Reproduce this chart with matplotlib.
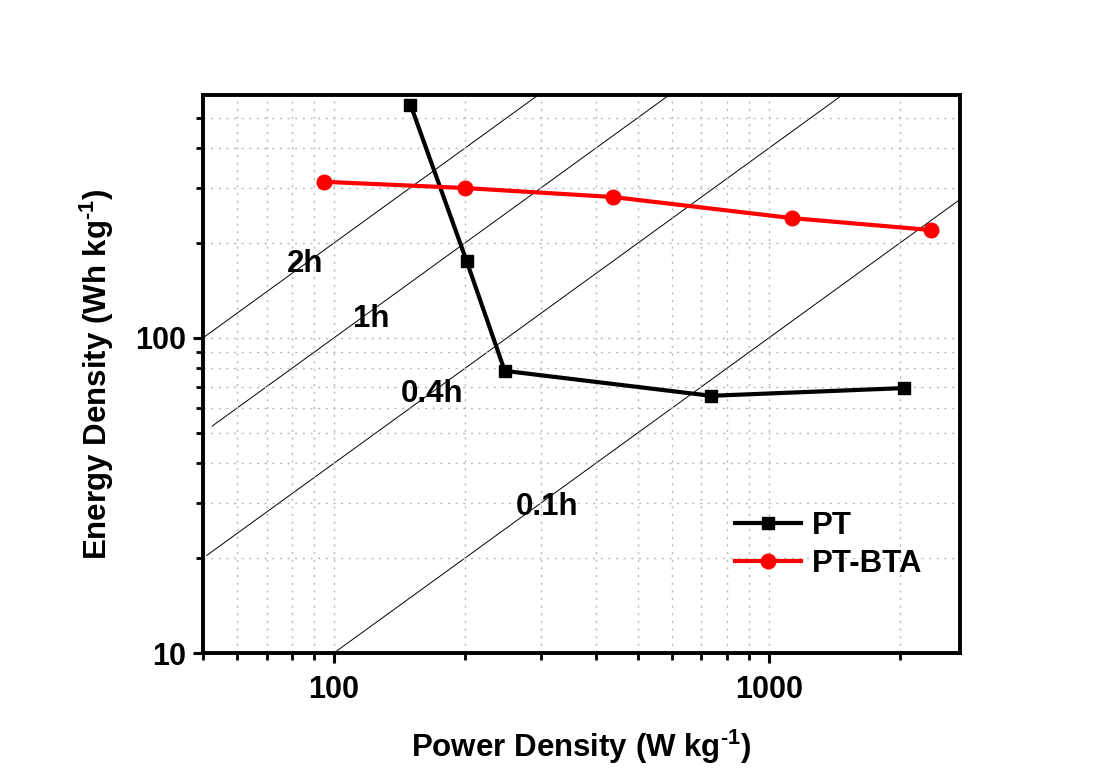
import numpy as np
import matplotlib
matplotlib.use("Agg")
import matplotlib.pyplot as plt
from matplotlib.ticker import LogLocator, NullFormatter

plt.rcParams['font.family'] = ['Liberation Sans', 'DejaVu Sans']
plt.rcParams['font.weight'] = 'bold'
plt.rcParams['mathtext.fontset'] = 'custom'
plt.rcParams['mathtext.rm'] = 'Liberation Sans:bold'
plt.rcParams['mathtext.bf'] = 'Liberation Sans:bold'
plt.rcParams['mathtext.default'] = 'bf'

# data
pt_power = [150, 202, 247, 736, 2040]
pt_energy = [550, 175, 78.6, 65.5, 69.3]
bta_power = [94.8, 200, 438, 1130, 2355]
bta_energy = [313, 299, 280, 240, 220]

# constant discharge-time guide lines (E = P * t)
times = [2, 1, 0.4, 0.1]
time_labels = ['2h', '1h', '0.4h', '0.1h']
line_start = [50, 52.5, 51, 100]
label_pos = [(85.8, 172), (121.6, 115), (167.8, 66.5), (309.6, 29.0)]

fig = plt.figure(figsize=(11, 7.75), dpi=100)
ax = fig.add_axes([0.1845, 0.1574, 0.6882, 0.72])

for t, p0 in zip(times, line_start):
    p = np.array([p0, 5000.0])
    ax.plot(p, p * t, color='black', lw=0.7, zorder=1)

for lab, (px, py) in zip(time_labels, label_pos):
    ax.text(px, py, lab, fontsize=22.5, fontweight='bold', ha='center', va='center')

ax.plot(pt_power, pt_energy, color='black', lw=3, marker='s', ms=9, label='PT', zorder=3)
ax.plot(bta_power, bta_energy, color='#ff0000', lw=3, marker='o', ms=10.5, label='PT-BTA', zorder=3)

ax.set_xscale('log')
ax.set_yscale('log')
ax.set_xlim(50, 2750)
ax.set_ylim(10, 590)

ax.xaxis.set_minor_locator(LogLocator(base=10, subs=np.arange(2, 10)))
ax.yaxis.set_minor_locator(LogLocator(base=10, subs=np.arange(2, 10)))
ax.xaxis.set_minor_formatter(NullFormatter())
ax.yaxis.set_minor_formatter(NullFormatter())
ax.set_xticks([100, 1000])
ax.set_xticklabels(['100', '1000'])
ax.set_yticks([10, 100])
ax.set_yticklabels(['10', '100'])

ax.grid(True, which='both', color='#b8b8b8', ls=(0, (1.5, 4)), lw=1.0, zorder=0)

for s in ax.spines.values():
    s.set_linewidth(2.8)
ax.tick_params(which='major', direction='out', length=7, width=2.2, labelsize=22)
ax.tick_params(axis='x', which='major', pad=9)
ax.tick_params(axis='y', which='major', pad=5)
ax.tick_params(which='minor', direction='out', length=5, width=2.0)
ax.tick_params(top=False, right=False)

ax.set_xlabel(r'Power Density (W kg$^{\text{-}1}$)', fontsize=22.5, fontweight='bold', labelpad=16)
ax.set_ylabel(r'Energy Density (Wh kg$^{\text{-}1}$)', fontsize=22.5, fontweight='bold', labelpad=14)

ax.legend(loc='center', bbox_to_anchor=(0.827, 0.194), frameon=False, fontsize=22.5,
          handlelength=2.1, handletextpad=0.35, labelspacing=0.25)

fig.savefig('out.png', dpi=100)
